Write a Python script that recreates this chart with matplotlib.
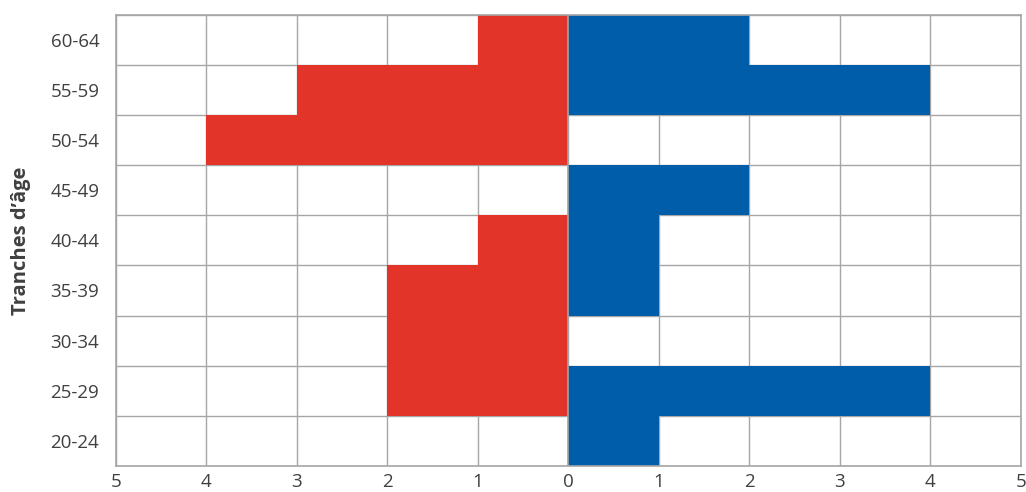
import numpy as np
import matplotlib
matplotlib.use("Agg")
import matplotlib.pyplot as plt

plt.rcParams['font.family'] = ['Open Sans', 'DejaVu Sans']

# Tranches d'âge, de bas en haut
ages = ["20-24", "25-29", "30-34", "35-39", "40-44", "45-49", "50-54", "55-59", "60-64"]
gauche = [0, 2, 2, 2, 1, 0, 4, 3, 1]   # barres rouges
droite = [1, 4, 0, 1, 1, 2, 0, 4, 2]   # barres bleues
ticks = [-5, -4, -3, -2, -1, 0, 1, 2, 3, 4, 5]

rouge = "#E3342A"
bleu = "#005DA9"
gris = "#A6A6A6"
texte = "#404040"

fig = plt.figure(figsize=(10.26, 4.92), dpi=100)
ax = fig.add_axes([0.113, 0.053, 0.882, 0.917])

y = np.arange(len(ages))
ax.barh(y, -np.array(gauche), height=1.0, color=rouge, zorder=2)
ax.barh(y, droite, height=1.0, color=bleu, zorder=2)
ax.axvline(0, color=gris, lw=1.2, zorder=3)

ax.set_xlim(-5, 5)
ax.set_ylim(-0.5, len(ages) - 0.5)
ax.set_xticks(ticks)
ax.set_xticklabels([str(abs(t)) for t in ticks])
ax.set_yticks(y)
ax.set_yticklabels(ages)

# grille
ax.set_yticks(np.arange(len(ages) + 1) - 0.5, minor=True)
ax.grid(True, axis="x", which="major", color=gris, lw=1, zorder=0)
ax.grid(True, axis="y", which="minor", color=gris, lw=1, zorder=0)
ax.set_axisbelow(True)

ax.tick_params(axis="both", which="both", length=0, labelsize=13.5, colors=texte)
ax.tick_params(axis="y", pad=12)
ax.tick_params(axis="x", pad=5)
for s in ax.spines.values():
    s.set_color(gris)
    s.set_linewidth(1.2)

ax.set_ylabel("Tranches d’âge", fontsize=14.5, fontweight="bold", color=texte, labelpad=14)

fig.savefig("out.png", dpi=100)
